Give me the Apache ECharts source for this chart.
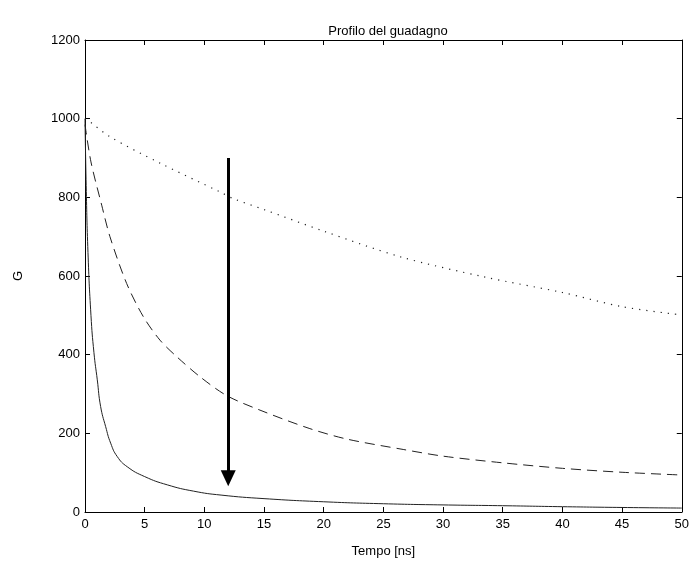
<!DOCTYPE html>
<html>
<head>
<meta charset="utf-8">
<script src="https://cdn.jsdelivr.net/npm/echarts@6/dist/echarts.min.js"></script>
<style>html,body{margin:0;padding:0;background:#fff}#c{width:692px;height:563px}</style>
</head>
<body>
<div id="c"></div>
<script>
// Values
const solidT = [0, 0.1, 0.25, 0.5, 0.75, 1.03, 1.31, 1.73, 2.15, 2.7, 3.54, 5, 6.9, 9.1, 11.4, 15, 20, 25, 30, 35, 40, 45, 50];
const solidG = [1000, 830, 660, 500, 405, 336, 268, 217, 175, 141, 115, 90, 69, 53, 43, 34, 26, 21, 18, 16, 13.5, 11.5, 10];
const dashT = [0, 0.5, 1.4, 2.09, 3.49, 4.88, 6.28, 7.68, 9.63, 11.87, 14.66, 18.84, 22, 26.66, 30, 35, 40, 45, 50];
const dashG = [985, 890, 780, 700, 581, 497, 437, 395, 344, 296, 259, 212, 185, 159, 142, 125, 111, 101, 94];
const dotT = [0, 0.42, 2.09, 6.28, 11.3, 12.4, 15, 20, 26.4, 33.4, 40, 45, 50];
const dotG = [1000, 992, 954, 887, 814, 797, 769, 714, 649, 598, 558, 522, 501];
const arrowX = [12, 12];
const arrowY = [900, 86];
const xTicks = [0, 5, 10, 15, 20, 25, 30, 35, 40, 45, 50];
const yTicks = [0, 200, 400, 600, 800, 1000, 1200];

const FONT = '"Liberation Sans", Arial, sans-serif';
const FS = 13;
const pairs = (a, b) => a.map((v, i) => [v, b[i]]);

const chart = echarts.init(document.getElementById('c'));
function axis(extra) {
  return Object.assign({
    type: 'value',
    axisLine: { show: true, onZero: false, lineStyle: { color: '#000', width: 1 } },
    axisTick: { show: true, inside: true, length: 5, lineStyle: { color: '#000' } },
    splitLine: { show: false },
    axisLabel: { color: '#000', fontSize: FS, fontFamily: FONT, formatter: v => String(v) }
  }, extra);
}
chart.setOption({
  animation: false,
  backgroundColor: '#fff',
  title: {
    text: 'Profilo del guadagno', left: 383, top: 20, textAlign: 'center',
    textStyle: { color: '#000', fontSize: FS, fontWeight: 'normal', fontFamily: FONT }
  },
  grid: { left: 85, right: 10, top: 40, bottom: 51, containLabel: false },
  xAxis: [
    axis({
      min: xTicks[0], max: xTicks[xTicks.length - 1], interval: 5, position: 'bottom',
      name: 'Tempo [ns]', nameLocation: 'middle', nameGap: 33,
      nameTextStyle: { color: '#000', fontSize: FS, fontFamily: FONT },
      axisLabel: { color: '#000', fontSize: FS, fontFamily: FONT, margin: 6, formatter: v => String(v) }
    }),
    axis({
      min: xTicks[0], max: xTicks[xTicks.length - 1], interval: 5, position: 'top',
      axisLabel: { show: false }
    })
  ],
  yAxis: [
    axis({
      min: yTicks[0], max: yTicks[yTicks.length - 1], interval: 200, position: 'left',
      name: 'G', nameLocation: 'middle', nameGap: 60,
      nameTextStyle: { color: '#000', fontSize: FS, fontFamily: FONT },
      axisLabel: { color: '#000', fontSize: FS, fontFamily: FONT, margin: 5, formatter: v => String(v) }
    }),
    axis({
      min: yTicks[0], max: yTicks[yTicks.length - 1], interval: 200, position: 'right',
      axisLabel: { show: false }
    })
  ],
  series: [
    {
      type: 'line', data: pairs(dotT, dotG), smooth: 0.3, showSymbol: false,
      lineStyle: { color: '#222', width: 1.2, type: [1.2, 6] }
    },
    {
      type: 'line', data: pairs(dashT, dashG), smooth: 0.3, showSymbol: false,
      lineStyle: { color: '#222', width: 1, type: [10, 6] }
    },
    {
      type: 'line', data: pairs(solidT, solidG), smooth: 0.5, showSymbol: false,
      lineStyle: { color: '#222', width: 1 }
    },
    {
      type: 'line', data: [], silent: true,
      markLine: {
        silent: true, animation: false,
        symbol: ['none', 'triangle'], symbolSize: [15, 16],
        label: { show: false },
        lineStyle: { color: '#000', width: 3, type: 'solid' },
        data: [[{ coord: [arrowX[0], arrowY[0]] }, { coord: [arrowX[1], arrowY[1]] }]]
      }
    }
  ]
});
</script>
</body>
</html>
